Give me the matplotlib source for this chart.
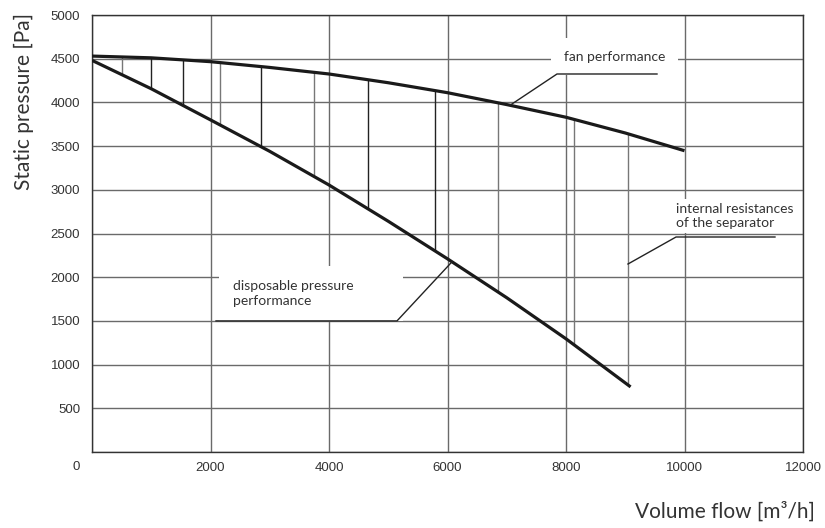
import matplotlib
matplotlib.use("Agg")
import matplotlib.pyplot as plt
import numpy as np

# fan curve (volume flow m3/h -> static pressure Pa)
fan_x = [0, 1000, 2000, 3000, 4000, 5000, 6000, 7000, 8000, 9000, 10000]
fan_y = [4530, 4510, 4466, 4400, 4325, 4225, 4111, 3975, 3830, 3650, 3447]

# disposable pressure curve
disp_x = [0, 1000, 2000, 3000, 4000, 5000, 6000, 7000, 8000, 9090]
disp_y = [4481, 4156, 3800, 3440, 3055, 2640, 2210, 1765, 1295, 745]

# vertical hatch lines between the two curves
hatch_x = [506, 996, 1536, 2160, 2852, 3747, 4658, 5789, 6852, 8135, 9046]
hatch_c = ['#777', '#222', '#222', '#777', '#222', '#777', '#222', '#222', '#777', '#777', '#777']

x_ticks = [0, 2000, 4000, 6000, 8000, 10000, 12000]
y_ticks = [0, 500, 1000, 1500, 2000, 2500, 3000, 3500, 4000, 4500, 5000]

tick_font = "Liberation Sans"
label_font = "Lato"

fig = plt.figure(figsize=(8.25, 5.28), dpi=100)
ax = fig.add_axes([92 / 825, 1 - 452 / 528, 711 / 825, 437 / 528])

ax.set_xlim(0, 12000)
ax.set_ylim(0, 5000)
ax.set_xticks(x_ticks)
ax.set_yticks(y_ticks)
ax.set_xticklabels([''] + [str(v) for v in x_ticks[1:]], family=tick_font, fontsize=9.5, color='#333')
ax.set_yticklabels([''] + [str(v) for v in y_ticks[1:]], family=tick_font, fontsize=9.5, color='#333')
ax.tick_params(length=0)
ax.tick_params(axis='y', pad=8.5)
ax.tick_params(axis='x', pad=7)

ax.set_axisbelow(True)
ax.grid(True, color='#6a6a6a', lw=1.0)
for s in ax.spines.values():
    s.set_color('#333')
    s.set_linewidth(1.0)

# hatch lines from fan curve down to disposable curve
lo = np.interp(hatch_x, disp_x, disp_y)
hi = np.interp(hatch_x, fan_x, fan_y)
ax.vlines(hatch_x, lo, hi, colors=hatch_c, lw=1.0, zorder=2)

ax.plot(fan_x, fan_y, color='#1a1a1a', lw=2.3, zorder=4, solid_capstyle='butt')
ax.plot(disp_x, disp_y, color='#1a1a1a', lw=2.3, zorder=4, solid_capstyle='butt')

# annotations with leader lines (white box hides the grid behind the text)
txt_kw = dict(family=label_font, fontsize=10, color='#333', zorder=3, linespacing=1.25)

ax.text(7966, 4520, "fan performance", ha='left', va='center',
        bbox=dict(facecolor='white', edgecolor='none', pad=9), **txt_kw)
fan_end = 7055
ax.plot([fan_end, 7848, 9536], [np.interp(fan_end, fan_x, fan_y), 4325, 4325],
        color='#222', lw=1.0, zorder=5)

ax.text(9857, 2700, "internal resistances\nof the separator", ha='left', va='center',
        bbox=dict(facecolor='white', edgecolor='none', pad=2.5), **txt_kw)
ax.plot([9046, 9857, 11527], [2151, 2460, 2460], color='#222', lw=1.0, zorder=5)

# trailing spaces widen the white box to the right, like the original gap
ax.text(2380, 1815, "disposable pressure          \nperformance", ha='left', va='center',
        bbox=dict(facecolor='white', edgecolor='none', pad=10), **txt_kw)
disp_end = 6076
ax.plot([2093, 5148, disp_end], [1500, 1500, np.interp(disp_end, disp_x, disp_y)],
        color='#222', lw=1.0, zorder=5)

# shared origin label
fig.text(76 / 825, 1 - 467 / 528, "0", ha='center', va='center',
         family=tick_font, fontsize=9.5, color='#333')

fig.text(24 / 825, 1 - 13 / 528, "Static pressure [Pa]", rotation=90, ha='center', va='top',
         family=label_font, fontsize=15, color='#333')
fig.text(815 / 825, 1 - 512 / 528, "Volume flow [m³/h]", ha='right', va='center',
         family=label_font, fontsize=15, color='#333')

fig.savefig("out.png", dpi=100)
